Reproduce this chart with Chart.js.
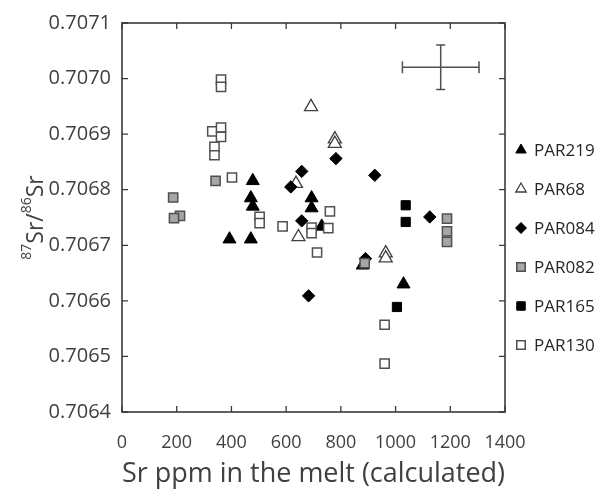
<!DOCTYPE html>
<html><head><meta charset="utf-8">
<script src="https://cdn.jsdelivr.net/npm/chart.js@4.4.1/dist/chart.umd.min.js"></script>
<style>html,body{margin:0;padding:0;background:#fff;}</style>
</head><body>
<canvas id="c" width="606" height="491"></canvas>
<script>
// ---- data ----
const seriesNames = ['PAR219', 'PAR68', 'PAR084', 'PAR082', 'PAR165', 'PAR130'];

const par219X = [478, 471, 478, 393, 471, 693, 693, 730, 880, 1029];
const par219Y = [0.706816, 0.706785, 0.706770, 0.706711, 0.706711, 0.706785, 0.706767, 0.706734, 0.706664, 0.706630];

const par68X = [691, 778, 778, 636, 645, 964, 964];
const par68Y = [0.706949, 0.706891, 0.706883, 0.706811, 0.706715, 0.706686, 0.706677];

const par084X = [657, 617, 782, 924, 657, 1125, 682, 890];
const par084Y = [0.706833, 0.706805, 0.706856, 0.706826, 0.706744, 0.706751, 0.706609, 0.706676];

const par082X = [342, 187, 212, 190, 887, 1188, 1188, 1188];
const par082Y = [0.706816, 0.706786, 0.706753, 0.706749, 0.706668, 0.706748, 0.706725, 0.706706];

const par165X = [1037, 1037, 1005];
const par165Y = [0.706772, 0.706742, 0.706589];

const par130X = [362, 362, 330, 362, 362, 338, 338, 402, 503, 503, 587, 693, 693, 760, 754, 713, 960, 960];
const par130Y = [0.706998, 0.706985, 0.706905, 0.706912, 0.706895, 0.706877, 0.706862, 0.706822, 0.706751, 0.706740, 0.706734, 0.706732, 0.706722, 0.706761, 0.706731, 0.706687, 0.706557, 0.706487];

const xTicks = [0, 200, 400, 600, 800, 1000, 1200, 1400];
const yTicks = [0.7064, 0.7065, 0.7066, 0.7067, 0.7068, 0.7069, 0.7070, 0.7071];

const xTitle = 'Sr ppm in the melt (calculated)';
const yTitleParts = ['87', 'Sr/', '86', 'Sr'];

// typical analytical uncertainty cross
const errCenterX = 1165, errCenterY = 0.7070205, errHalfX = 140, errHalfY = 0.00004;

// ---- styles ----
const styles = [
  {pointStyle: 'triangle', bg: '#000000', border: '#000000', bw: 1, r: 7.5, lr: 6},
  {pointStyle: 'triangle', bg: '#ffffff', border: '#404040', bw: 1.3, r: 7.5, lr: 6},
  {pointStyle: 'rectRot', bg: '#000000', border: '#000000', bw: 1, r: 6.2, lr: 5.5},
  {pointStyle: 'rect', bg: '#a6a6a6', border: '#505050', bw: 1.5, r: 6.5, lr: 6},
  {pointStyle: 'rect', bg: '#000000', border: '#000000', bw: 1, r: 6.5, lr: 6},
  {pointStyle: 'rect', bg: '#ffffff', border: '#505050', bw: 1.5, r: 6.5, lr: 6}
];
const xs = [par219X, par68X, par084X, par082X, par165X, par130X];
const ys = [par219Y, par68Y, par084Y, par082Y, par165Y, par130Y];

const datasets = seriesNames.map((name, i) => ({
  label: name,
  data: xs[i].map((x, j) => ({x: x, y: ys[i][j]})),
  pointStyle: styles[i].pointStyle,
  backgroundColor: styles[i].bg,
  borderColor: styles[i].border,
  borderWidth: styles[i].bw,
  pointRadius: styles[i].r,
  pointHoverRadius: styles[i].r,
  showLine: false,
  order: seriesNames.length - i
}));

const FONT = "'Open Sans', 'Liberation Sans', sans-serif";

const framePlugin = {
  id: 'frame',
  afterDatasetsDraw(chart) {
    const {ctx, chartArea: a, scales: {x, y}} = chart;
    ctx.save();
    ctx.strokeStyle = '#3a3a3a';
    ctx.lineWidth = 1.6;
    ctx.strokeRect(a.left, a.top, a.right - a.left, a.bottom - a.top);
    ctx.lineWidth = 1.3;
    ctx.beginPath();
    const tl = 6;
    xTicks.forEach(v => {
      const px = x.getPixelForValue(v);
      ctx.moveTo(px, a.bottom); ctx.lineTo(px, a.bottom - tl);
      ctx.moveTo(px, a.top); ctx.lineTo(px, a.top + tl);
    });
    yTicks.forEach(v => {
      const py = y.getPixelForValue(v);
      ctx.moveTo(a.left, py); ctx.lineTo(a.left + tl, py);
      ctx.moveTo(a.right, py); ctx.lineTo(a.right - tl, py);
    });
    ctx.stroke();

    // error cross
    const cx = x.getPixelForValue(errCenterX), cy = y.getPixelForValue(errCenterY);
    const x1 = x.getPixelForValue(errCenterX - errHalfX), x2 = x.getPixelForValue(errCenterX + errHalfX);
    const y1 = y.getPixelForValue(errCenterY + errHalfY), y2 = y.getPixelForValue(errCenterY - errHalfY);
    ctx.strokeStyle = '#505050';
    ctx.lineWidth = 1.5;
    ctx.beginPath();
    ctx.moveTo(x1, cy); ctx.lineTo(x2, cy);
    ctx.moveTo(cx, y1); ctx.lineTo(cx, y2);
    ctx.moveTo(x1, cy - 6); ctx.lineTo(x1, cy + 6);
    ctx.moveTo(x2, cy - 6); ctx.lineTo(x2, cy + 6);
    ctx.moveTo(cx - 4.5, y1); ctx.lineTo(cx + 4.5, y1);
    ctx.moveTo(cx - 4.5, y2); ctx.lineTo(cx + 4.5, y2);
    ctx.stroke();
    ctx.restore();
  },
  afterDraw(chart) {
    const {ctx, chartArea: a} = chart;
    ctx.save();
    // legend
    ctx.font = '17px ' + FONT;
    ctx.textBaseline = 'middle';
    ctx.textAlign = 'left';
    seriesNames.forEach((name, i) => {
      const yy = 150 + i * 39;
      const s = styles[i];
      ctx.fillStyle = s.bg;
      ctx.strokeStyle = s.border;
      ctx.lineWidth = s.bw;
      Chart.helpers.drawPoint(ctx, {pointStyle: s.pointStyle, radius: s.lr, rotation: 0, borderWidth: s.bw}, 521, yy);
      ctx.fillStyle = '#262626';
      ctx.fillText(name, 534, yy + 1);
    });
    // y axis title with superscripts
    const cy = (a.top + a.bottom) / 2;
    ctx.translate(43, cy);
    ctx.rotate(-Math.PI / 2);
    ctx.fillStyle = '#404040';
    ctx.textBaseline = 'alphabetic';
    const big = '23px ' + FONT, small = '14px ' + FONT;
    const fonts = [small, big, small, big];
    let total = 0;
    const widths = yTitleParts.map((t, i) => { ctx.font = fonts[i]; const w = ctx.measureText(t).width; total += w; return w; });
    let cur = -total / 2;
    yTitleParts.forEach((t, i) => {
      ctx.font = fonts[i];
      ctx.fillText(t, cur, fonts[i] === small ? -12 : 0);
      cur += widths[i];
    });
    ctx.restore();
  }
};

new Chart(document.getElementById('c'), {
  type: 'scatter',
  data: {datasets: datasets},
  options: {
    responsive: false,
    animation: false,
    devicePixelRatio: 1,
    layout: {padding: {left: 0, right: 101, top: 20, bottom: 0}},
    plugins: {legend: {display: false}, tooltip: {enabled: false}},
    scales: {
      x: {
        type: 'linear', min: 0, max: 1400,
        afterBuildTicks: s => { s.ticks = xTicks.map(v => ({value: v})); },
        afterFit: s => { s.height = 79; },
        grid: {display: false, drawTicks: false},
        border: {display: false},
        ticks: {font: {size: 18, family: FONT}, color: '#404040', padding: 20, maxRotation: 0, callback: v => String(v)},
        title: {display: true, text: xTitle, font: {size: 27, family: FONT}, color: '#404040', padding: {top: 0, bottom: 0}}
      },
      y: {
        type: 'linear', min: 0.7064, max: 0.7071,
        afterBuildTicks: s => { s.ticks = yTicks.map(v => ({value: v})); },
        afterFit: s => { s.width = 122; },
        grid: {display: false, drawTicks: false},
        border: {display: false},
        ticks: {font: {size: 20, family: FONT}, color: '#404040', padding: 11, callback: v => Number(v).toFixed(4)}
      }
    }
  },
  plugins: [framePlugin]
});
</script>
</body></html>
